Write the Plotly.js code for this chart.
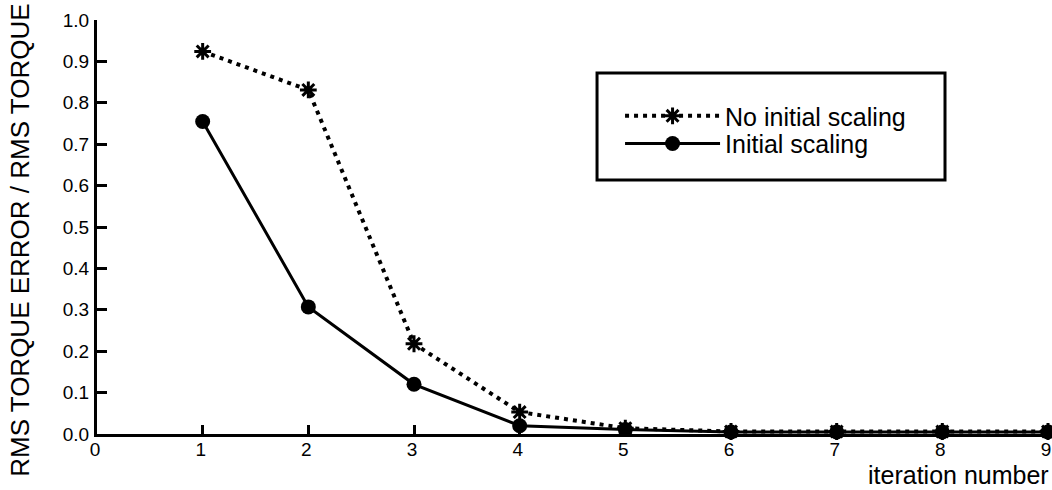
<!DOCTYPE html>
<html>
<head>
<meta charset="utf-8">
<script src="https://cdn.plot.ly/plotly-3.0.1.min.js"></script>
<style>
  html, body { margin: 0; padding: 0; background: #fff; }
  #chart { width: 1052px; height: 490px; }
</style>
</head>
<body>
<div id="chart"></div>
<script>
// Data
const iterations = [1, 2, 3, 4, 5, 6, 7, 8, 9];
const noInitialScaling = [0.924, 0.831, 0.218, 0.053, 0.014, 0.006, 0.006, 0.006, 0.006];
const initialScaling   = [0.755, 0.307, 0.120, 0.020, 0.011, 0.005, 0.005, 0.005, 0.005];
const seriesNames = ['No initial scaling', 'Initial scaling'];
const xTickVals = [0, 1, 2, 3, 4, 5, 6, 7, 8, 9];
const yTickVals = [0, 0.1, 0.2, 0.3, 0.4, 0.5, 0.6, 0.7, 0.8, 0.9, 1.0];
const yTitle = 'RMS TORQUE ERROR / RMS TORQUE';
const xTitle = 'iteration number';

const FONT = 'Liberation Sans, Arial, Helvetica, sans-serif';

const traces = [
  {
    x: iterations, y: noInitialScaling, name: seriesNames[0], legend: 'legend',
    type: 'scatter', mode: 'lines+markers', cliponaxis: false,
    line: { color: '#000', width: 4, dash: '4px,5px' },
    marker: { symbol: 'asterisk-open', size: 14, color: '#000', line: { color: '#000', width: 3 } }
  },
  {
    x: iterations, y: initialScaling, name: seriesNames[1], legend: 'legend2',
    type: 'scatter', mode: 'lines+markers', cliponaxis: false,
    line: { color: '#000', width: 3 },
    marker: { symbol: 'circle', size: 15, color: '#000' }
  }
];

const legendBase = {
  xanchor: 'left', yanchor: 'middle',
  bgcolor: 'rgba(0,0,0,0)', borderwidth: 0,
  font: { family: FONT, size: 25, color: '#000' },
  itemwidth: 95
};

// plot area in pixels: x 97..1048, y 20..434
const layout = {
  width: 1052, height: 490,
  margin: { l: 97, r: 4, t: 20, b: 56 },
  paper_bgcolor: '#fff', plot_bgcolor: '#fff',
  font: { family: FONT, color: '#000', size: 20 },
  showlegend: true,
  legend: Object.assign({}, legendBase, { x: 0.550, y: 0.768 }),
  legend2: Object.assign({}, legendBase, { x: 0.550, y: 0.701 }),
  xaxis: {
    range: [0, 9], tickvals: xTickVals, ticktext: xTickVals.map(String),
    showgrid: false, zeroline: false,
    showline: true, linecolor: '#000', linewidth: 3,
    ticks: 'inside', ticklen: 9, tickwidth: 3, tickcolor: '#000',
    tickfont: { family: FONT, size: 19, color: '#000' },
    ticklabeloverflow: 'allow', ticklabelstandoff: -4, ticklabelshift: -2,
    fixedrange: true
  },
  yaxis: {
    range: [0, 1.0], tickvals: yTickVals, ticktext: yTickVals.map(v => v.toFixed(1)),
    showgrid: false, zeroline: false,
    showline: true, linecolor: '#000', linewidth: 3,
    ticks: 'inside', ticklen: 10, tickwidth: 3, tickcolor: '#000',
    tickfont: { family: FONT, size: 19, color: '#000' },
    ticklabelstandoff: 1,
    fixedrange: true
  },
  shapes: [
    { type: 'rect', xref: 'paper', yref: 'paper',
      x0: 0.5258, x1: 0.8917, y0: 0.6135, y1: 0.872,
      line: { color: '#000', width: 3 }, fillcolor: 'rgba(0,0,0,0)' }
  ],
  annotations: [
    { text: yTitle, xref: 'paper', yref: 'paper', x: -0.081, y: 0.469,
      xanchor: 'center', yanchor: 'middle', textangle: -90, showarrow: false,
      font: { family: FONT, size: 26, color: '#000' } },
    { text: xTitle, xref: 'paper', yref: 'paper', x: 1.003, y: -0.099,
      xanchor: 'right', yanchor: 'middle', showarrow: false,
      font: { family: FONT, size: 25, color: '#000' } }
  ]
};

Plotly.newPlot('chart', traces, layout, { displayModeBar: false, staticPlot: true });
</script>
</body>
</html>
